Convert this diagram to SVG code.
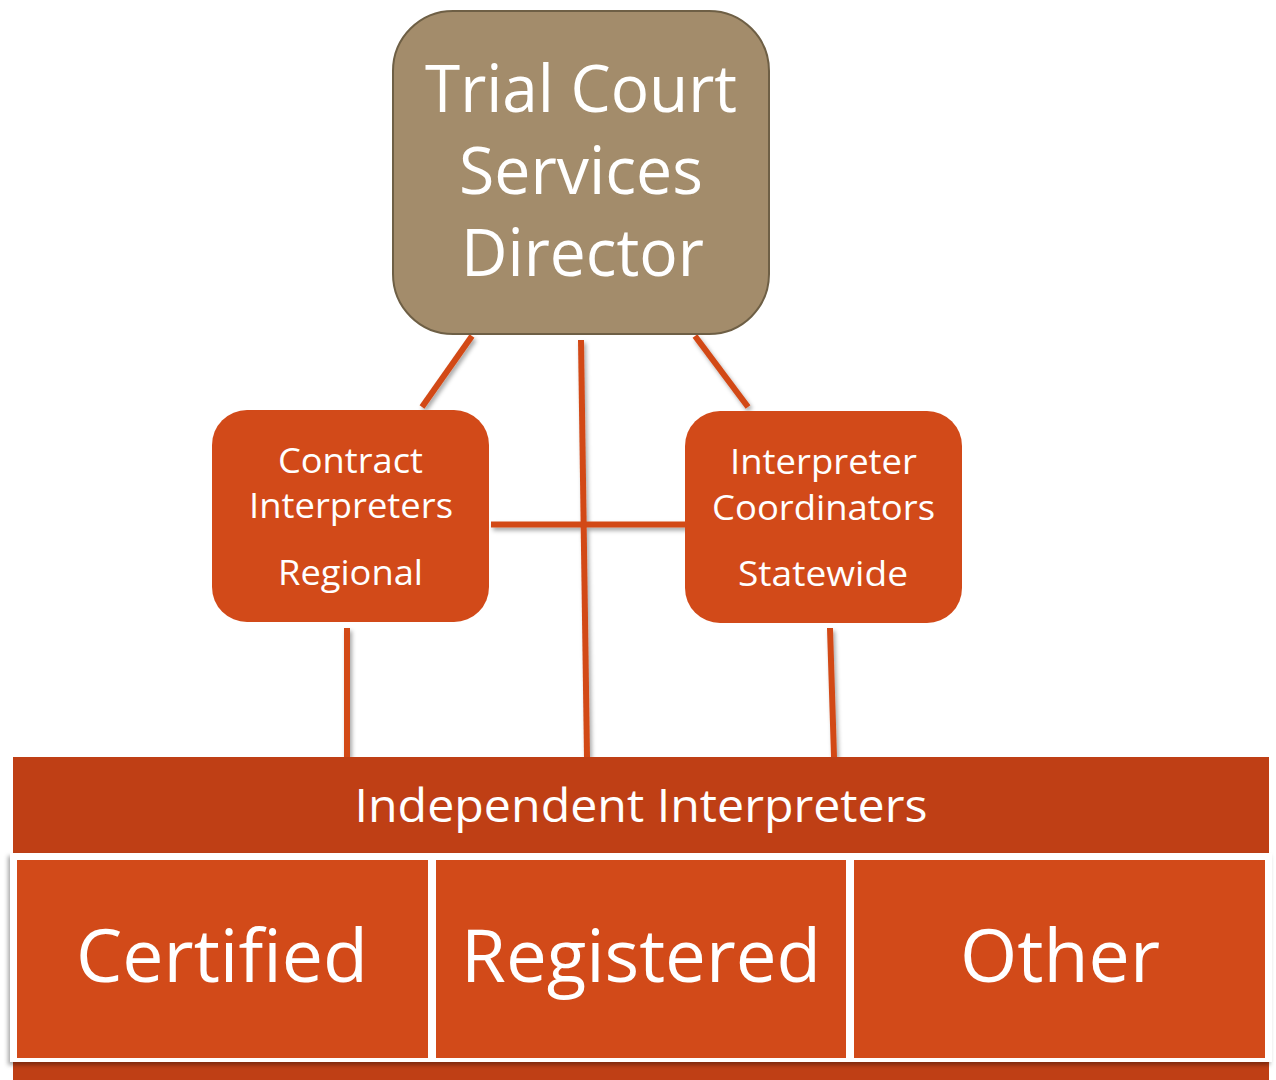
<svg xmlns="http://www.w3.org/2000/svg" width="1276" height="1080" viewBox="0 0 1276 1080">
<defs>
<filter id="sh" x="-20%" y="-20%" width="140%" height="140%"><feDropShadow dx="2" dy="3" stdDeviation="2" flood-color="#000" flood-opacity="0.35"/></filter>
<filter id="sh2" x="-5%" y="-5%" width="110%" height="110%"><feDropShadow dx="-2" dy="3" stdDeviation="2" flood-color="#000" flood-opacity="0.35"/></filter>
</defs>
<style>
text{font-family:"Open Sans","Noto Sans","Liberation Sans",sans-serif;fill:#fff;text-anchor:middle}
.con{stroke:#D24A19;stroke-width:6;fill:none;stroke-linecap:butt}
.orange{fill:#D24A19}
.t1{font-size:66px}
.t2{font-size:35px}
.t3{font-size:46px}
.t4{font-size:73px}
</style>
<rect width="1276" height="1080" fill="#fff"/>
<g id="connectors" filter="url(#sh)">
<line class="con" x1="472" y1="336" x2="422" y2="407"/>
<line class="con" x1="695" y1="336" x2="748" y2="407"/>
<line class="con" x1="581" y1="340" x2="587" y2="757"/>
<line class="con" x1="491" y1="524.5" x2="694" y2="524.5"/>
<line class="con" x1="347" y1="628" x2="347" y2="757"/>
<line class="con" x1="830" y1="628" x2="834" y2="757"/>
</g>
<g id="director">
<rect x="393" y="11" width="376" height="323" rx="60" fill="#A38C6B" stroke="#6E5F45" stroke-width="2"/>
<text class="t1" x="581" y="112" textLength="312" lengthAdjust="spacingAndGlyphs">Trial Court</text>
<text class="t1" x="581" y="194" textLength="244" lengthAdjust="spacingAndGlyphs">Services</text>
<text class="t1" x="582.5" y="276" textLength="243" lengthAdjust="spacingAndGlyphs">Director</text>
</g>
<g id="contract">
<rect class="orange" x="212" y="410" width="277" height="212" rx="35"/>
<text class="t2" x="350.5" y="473" textLength="145" lengthAdjust="spacingAndGlyphs">Contract</text>
<text class="t2" x="351" y="518" textLength="204" lengthAdjust="spacingAndGlyphs">Interpreters</text>
<text class="t2" x="350.5" y="585" textLength="145" lengthAdjust="spacingAndGlyphs">Regional</text>
</g>
<g id="coordinators">
<rect class="orange" x="685" y="411" width="277" height="212" rx="35"/>
<text class="t2" x="823.5" y="474" textLength="187" lengthAdjust="spacingAndGlyphs">Interpreter</text>
<text class="t2" x="823.5" y="520" textLength="223" lengthAdjust="spacingAndGlyphs">Coordinators</text>
<text class="t2" x="823" y="586" textLength="170" lengthAdjust="spacingAndGlyphs">Statewide</text>
</g>
<g id="independent">
<rect x="13" y="757" width="1256" height="323" fill="#BF3F15"/>
<text class="t3" x="641" y="822" textLength="573" lengthAdjust="spacingAndGlyphs">Independent Interpreters</text>
</g>
<g id="categories">
<rect x="10" y="853" width="1262" height="209" fill="#fff" filter="url(#sh2)"/>
<g id="certified">
<rect class="orange" x="17" y="860" width="411" height="198"/>
<text class="t4" x="222" y="982" textLength="292" lengthAdjust="spacingAndGlyphs">Certified</text>
</g>
<g id="registered">
<rect class="orange" x="436" y="860" width="410" height="198"/>
<text class="t4" x="641" y="982" textLength="360" lengthAdjust="spacingAndGlyphs">Registered</text>
</g>
<g id="other">
<rect class="orange" x="854" y="860" width="411" height="198"/>
<text class="t4" x="1060" y="982" textLength="200" lengthAdjust="spacingAndGlyphs">Other</text>
</g>
</g>
</svg>
